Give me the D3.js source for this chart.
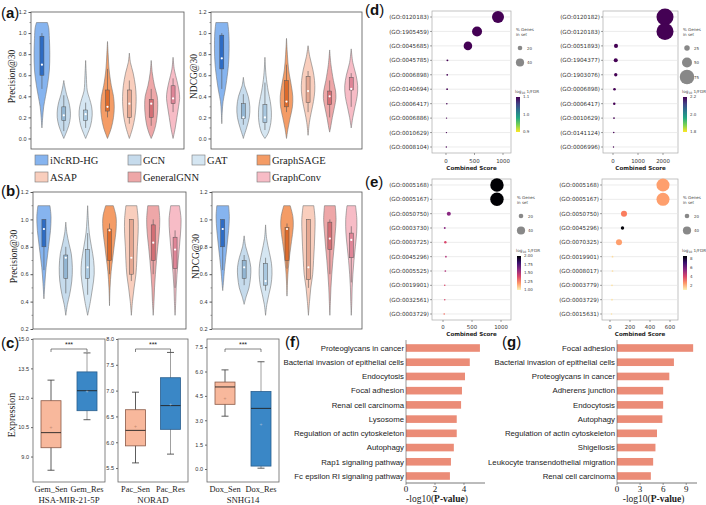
<!DOCTYPE html>
<html>
<head>
<meta charset="utf-8">
<script src="https://cdn.jsdelivr.net/npm/d3@7"></script>
<style>
  body { margin: 0; background: #fff; }
  svg { display: block; }
</style>
</head>
<body>
<div id="chart"></div>
<script>
// ---------- data ----------
var models = ["iNcRD-HG", "GCN", "GAT", "GraphSAGE", "ASAP", "GeneralGNN", "GraphConv"];
var violinFill = ["#86B4EF", "#C6DBEC", "#D5E6F2", "#F49C66", "#F9CEBD", "#EEA7A8", "#F7BCC6"];
var violinBox = ["#2E6CC4", "#93B6D3", "#A9C8E0", "#DD6B2C", "#E5A791", "#D36F75", "#DF8597"];

// violin outlines: [value, relative half width]
var precA = [
  [[1.1,0.5],[1.05,0.62],[0.95,0.68],[0.8,0.72],[0.65,0.68],[0.5,0.5],[0.4,0.33],[0.3,0.16],[0.2,0.07],[0.1,0]],
  [[0.55,0],[0.5,0.08],[0.42,0.25],[0.35,0.45],[0.28,0.58],[0.2,0.6],[0.12,0.45],[0.05,0.2],[0,0]],
  [[0.74,0],[0.6,0.06],[0.45,0.15],[0.38,0.35],[0.3,0.55],[0.22,0.6],[0.12,0.45],[0.05,0.2],[0,0]],
  [[0.92,0],[0.8,0.06],[0.65,0.15],[0.5,0.35],[0.4,0.55],[0.3,0.62],[0.2,0.55],[0.1,0.35],[0,0]],
  [[0.81,0],[0.72,0.1],[0.62,0.35],[0.5,0.55],[0.4,0.62],[0.3,0.6],[0.2,0.5],[0.1,0.3],[0,0]],
  [[0.74,0],[0.62,0.1],[0.5,0.3],[0.4,0.55],[0.32,0.6],[0.22,0.55],[0.12,0.4],[0.05,0.2],[0,0]],
  [[0.77,0],[0.65,0.12],[0.55,0.35],[0.45,0.55],[0.38,0.6],[0.3,0.5],[0.2,0.35],[0.1,0.2],[0,0]]
];
// box: [low whisker, q1, median, q3, high whisker]
var precABox = [[0.47,0.6,0.7,0.97,1.0],[0.07,0.17,0.22,0.3,0.41],[0.1,0.17,0.23,0.27,0.34],[0.2,0.26,0.3,0.46,0.66],
  [0.14,0.2,0.33,0.46,0.55],[0.12,0.2,0.33,0.37,0.47],[0.25,0.33,0.38,0.5,0.57]];

var ndcgA = [
  [[1.1,0.55],[1.0,0.65],[0.85,0.68],[0.7,0.62],[0.55,0.45],[0.45,0.3],[0.35,0.12],[0.25,0.04],[0.14,0]],
  [[0.58,0],[0.5,0.12],[0.4,0.45],[0.3,0.6],[0.2,0.55],[0.1,0.3],[0.02,0.05],[0,0]],
  [[0.77,0],[0.6,0.1],[0.45,0.3],[0.35,0.5],[0.25,0.6],[0.15,0.55],[0.05,0.3],[0,0]],
  [[0.95,0],[0.8,0.08],[0.65,0.2],[0.5,0.45],[0.4,0.58],[0.3,0.55],[0.2,0.35],[0.1,0.15],[0,0]],
  [[0.88,0],[0.78,0.15],[0.65,0.45],[0.55,0.6],[0.45,0.62],[0.35,0.5],[0.25,0.3],[0.15,0.12],[0.03,0]],
  [[0.84,0],[0.7,0.12],[0.55,0.35],[0.45,0.55],[0.38,0.58],[0.3,0.45],[0.2,0.25],[0.1,0.08],[0.06,0]],
  [[0.85,0],[0.72,0.15],[0.6,0.45],[0.5,0.6],[0.4,0.55],[0.3,0.35],[0.2,0.15],[0.1,0]]
];
var ndcgABox = [[0.47,0.66,0.76,0.98,1.0],[0.13,0.19,0.2,0.33,0.42],[0.08,0.15,0.2,0.32,0.53],[0.25,0.3,0.35,0.55,0.7],
  [0.25,0.34,0.45,0.59,0.64],[0.2,0.32,0.4,0.45,0.55],[0.3,0.46,0.47,0.58,0.62]];

var precB = [
  [[1.1,0.55],[1.02,0.65],[0.92,0.6],[0.85,0.5],[0.75,0.35],[0.65,0.2],[0.55,0.1],[0.42,0]],
  [[0.98,0],[0.9,0.1],[0.82,0.3],[0.75,0.5],[0.65,0.6],[0.55,0.55],[0.45,0.35],[0.38,0.15],[0.3,0]],
  [[1.1,0],[1.0,0.06],[0.9,0.15],[0.8,0.35],[0.7,0.55],[0.6,0.6],[0.5,0.45],[0.4,0.25],[0.3,0]],
  [[1.1,0.35],[1.02,0.6],[0.92,0.6],[0.82,0.45],[0.72,0.3],[0.62,0.15],[0.5,0.05],[0.37,0]],
  [[1.1,0.5],[1.0,0.62],[0.9,0.62],[0.8,0.55],[0.7,0.5],[0.6,0.42],[0.5,0.25],[0.4,0.1],[0.3,0]],
  [[1.1,0.5],[1.0,0.6],[0.9,0.55],[0.8,0.42],[0.7,0.3],[0.6,0.2],[0.5,0.12],[0.4,0.07],[0.3,0]],
  [[1.1,0.4],[1.0,0.55],[0.9,0.5],[0.8,0.4],[0.7,0.28],[0.6,0.18],[0.5,0.1],[0.4,0.06],[0.3,0]]
];
var precBBox = [[0.63,0.8,0.93,1.0,1.0],[0.46,0.57,0.72,0.74,0.8],[0.45,0.57,0.65,0.78,0.9],[0.6,0.7,0.92,0.93,0.97],
  [0.55,0.6,0.72,1.0,1.0],[0.6,0.7,0.83,0.96,1.0],[0.5,0.64,0.78,0.87,0.92]];

var ndcgB = [
  [[1.1,0.55],[1.02,0.62],[0.92,0.55],[0.82,0.42],[0.72,0.28],[0.62,0.15],[0.55,0.08],[0.48,0]],
  [[0.88,0],[0.8,0.15],[0.72,0.45],[0.65,0.62],[0.58,0.6],[0.5,0.45],[0.44,0.2],[0.38,0]],
  [[0.96,0],[0.86,0.1],[0.76,0.35],[0.68,0.55],[0.6,0.6],[0.52,0.5],[0.45,0.3],[0.38,0.12],[0.3,0]],
  [[1.1,0.3],[1.02,0.55],[0.94,0.58],[0.84,0.42],[0.74,0.25],[0.64,0.12],[0.55,0.05],[0.44,0]],
  [[1.1,0.5],[1.0,0.62],[0.9,0.6],[0.8,0.55],[0.7,0.48],[0.6,0.4],[0.5,0.22],[0.4,0.1],[0.3,0]],
  [[1.1,0.5],[1.0,0.58],[0.9,0.5],[0.8,0.4],[0.7,0.28],[0.6,0.18],[0.5,0.1],[0.4,0.05],[0.3,0]],
  [[1.1,0.4],[1.0,0.52],[0.9,0.5],[0.8,0.38],[0.7,0.25],[0.6,0.15],[0.5,0.08],[0.4,0.05],[0.3,0]]
];
var ndcgBBox = [[0.63,0.8,0.93,1.0,1.0],[0.52,0.57,0.65,0.7,0.74],[0.48,0.52,0.55,0.68,0.72],[0.64,0.7,0.93,0.94,0.97],
  [0.5,0.56,0.65,1.0,1.0],[0.6,0.78,0.86,0.98,1.0],[0.54,0.72,0.85,0.9,0.95]];

// panel (c) box plots
var genes = ["HSA-MIR-21-5P", "NORAD", "SNHG14"];
var groups = [["Gem_Sen", "Gem_Res"], ["Pac_Sen", "Pac_Res"], ["Dox_Sen", "Dox_Res"]];
var groupStats = [
  [[8.3, 9.45, 10.22, 11.85, 12.9], [10.88, 11.34, 12.36, 13.32, 14.29]],
  [[5.6, 5.93, 6.23, 6.63, 6.97], [5.77, 6.25, 6.71, 7.25, 7.74]],
  [[3.25, 3.98, 5.05, 5.35, 6.1], [0.05, 0.18, 3.73, 4.77, 6.6]]
];
var groupMeans = [[10.5, 12.3], [6.3, 6.73], [4.35, 2.75]];
var expTicks = [[9, 10.5, 12, 13.5, 15], [5.5, 6.0, 6.5, 7.0, 7.5, 8.0], [0, 1.5, 3, 4.5, 6, 7.5]];

// panel (d)/(e) enrichment dots
var goD1 = ["(GO:0120183)","(GO:1905459)","(GO:0045685)","(GO:0045785)","(GO:0006898)","(GO:0140694)","(GO:0006417)","(GO:0006886)","(GO:0010629)","(GO:0008104)"];
var goD1Score = [912, 545, 385, 25, 22, 20, 15, 10, 8, 6];
var goD1Pct = [61, 50, 42, 5, 4, 4, 3, 2, 2, 2];
var goD1Fdr = [1.1, 1.1, 1.1, 1.1, 1.1, 1.1, 1.1, 1.1, 1.1, 1.1];

var goD2 = ["(GO:0120182)","(GO:0120183)","(GO:0051893)","(GO:1904377)","(GO:1903076)","(GO:0006898)","(GO:0006417)","(GO:0010629)","(GO:0141124)","(GO:0006996)"];
var goD2Score = [2080, 2080, 120, 110, 110, 60, 50, 40, 30, 20];
var goD2Pct = [89, 89, 17, 17, 13, 9, 8, 4, 3, 2];
var goD2Fdr = [2.2, 2.2, 2.2, 2.2, 2.2, 2.2, 2.2, 2.2, 2.2, 2.2];

var goE1 = ["(GO:0005168)","(GO:0005167)","(GO:0050750)","(GO:0003730)","(GO:0003725)","(GO:0045296)","(GO:0005525)","(GO:0019901)","(GO:0032561)","(GO:0003729)"];
var goE1Score = [930, 930, 100, 30, 40, 50, 40, 30, 30, 20];
var goE1Pct = [69, 69, 17, 5, 8, 4, 4, 3, 3, 3];
var goE1Fdr = [2.0, 2.0, 1.6, 1.6, 1.4, 1.5, 1.5, 1.4, 1.4, 1.3];

var goE2 = ["(GO:0005168)","(GO:0005167)","(GO:0050750)","(GO:0045296)","(GO:0070325)","(GO:0019901)","(GO:0008017)","(GO:0003779)","(GO:0003729)","(GO:0015631)"];
var goE2Score = [530, 530, 140, 125, 90, 25, 25, 20, 20, 15];
var goE2Pct = [67, 67, 28, 13, 28, 4, 4, 4, 4, 3];
var goE2Fdr = [2.4, 2.4, 2.95, 8.5, 2.4, 1.4, 1.4, 1.3, 1.3, 1.3];

// panel (f)/(g) KEGG bars
var keggF = ["Proteoglycans in cancer","Bacterial invasion of epithelial cells","Endocytosis","Focal adhesion","Renal cell carcinoma",
  "Lysosome","Regulation of actin cytoskeleton","Autophagy","Rap1 signaling pathway","Fc epsilon RI signaling pathway"];
var keggFVal = [5.1, 4.4, 4.07, 3.86, 3.8, 3.5, 3.5, 3.3, 3.1, 3.03];
var keggG = ["Focal adhesion","Bacterial invasion of epithelial cells","Proteoglycans in cancer","Adherens junction","Endocytosis",
  "Autophagy","Regulation of actin cytoskeleton","Shigellosis","Leukocyte transendothelial migration","Renal cell carcinoma"];
var keggGVal = [9.9, 7.4, 6.8, 6.0, 6.0, 5.9, 5.2, 5.0, 4.7, 4.4];

// ---------- drawing ----------
var SERIF = '"Liberation Serif","Times New Roman",serif';
var SANS = '"Liberation Sans",Arial,sans-serif';
var DJ = '"DejaVu Sans",sans-serif';

var svg = d3.select("#chart").append("svg").attr("width", 706).attr("height", 505);
svg.append("rect").attr("width", 706).attr("height", 505).attr("fill", "#fff");
var defs = svg.append("defs");

function panelLabel(x, y, letter) {
  var t = svg.append("text").attr("x", x).attr("y", y).attr("font-family", SANS).attr("font-size", 15).attr("fill", "#111");
  t.append("tspan").text("(");
  t.append("tspan").attr("font-weight", "bold").text(letter);
  t.append("tspan").text(")");
}

function violins(x0, x1, yTop, yBot, dom, ticks, profiles, boxes, title, titleX) {
  var g = svg.append("g");
  var x = d3.scaleBand().domain(models).range([x0, x1]);
  var y = d3.scaleLinear().domain(dom).range([yBot, yTop]);
  var w = d3.scaleLinear().domain([0, 1]).range([0, x.bandwidth() / 2]);

  models.forEach(function (m, i) {
    var cx = x(m) + x.bandwidth() / 2;
    var area = d3.area().curve(d3.curveCatmullRom)
      .y(function (d) { return y(d[0]); })
      .x0(function (d) { return cx - w(d[1]); })
      .x1(function (d) { return cx + w(d[1]); });
    g.append("path").attr("d", area(profiles[i])).attr("fill", violinFill[i])
      .attr("stroke", "#777").attr("stroke-width", 0.6);
    var b = boxes[i];
    g.append("line").attr("x1", cx).attr("x2", cx).attr("y1", y(b[0])).attr("y2", y(b[4]))
      .attr("stroke", "#555").attr("stroke-width", 0.6);
    g.append("rect").attr("x", cx - 2).attr("width", 4).attr("y", y(b[3])).attr("height", y(b[1]) - y(b[3]))
      .attr("fill", violinBox[i]).attr("stroke", "#555").attr("stroke-width", 0.5);
    g.append("circle").attr("cx", cx).attr("cy", y(b[2])).attr("r", 1.1).attr("fill", "#fff");
  });

  g.append("rect").attr("x", x0).attr("y", yTop).attr("width", x1 - x0).attr("height", yBot - yTop)
    .attr("fill", "none").attr("stroke", "#555").attr("stroke-width", 0.8);

  var ax = g.append("g").attr("transform", "translate(" + x0 + ",0)")
    .call(d3.axisLeft(y).tickValues(ticks).tickSize(2.5).tickPadding(2).tickFormat(d3.format(".1f")));
  ax.select(".domain").remove();
  ax.selectAll("line").attr("stroke", "#555");
  ax.selectAll("text").attr("font-size", 5.5).attr("font-family", SANS).attr("fill", "#333");
  var minor = ticks.slice(1).map(function (t, i) { return (t + ticks[i]) / 2; });
  g.selectAll(null).data(minor).enter().append("line")
    .attr("x1", x0 - 1.5).attr("x2", x0).attr("y1", function (d) { return y(d); }).attr("y2", function (d) { return y(d); })
    .attr("stroke", "#555").attr("stroke-width", 0.6);

  g.append("text").attr("transform", "translate(" + titleX + "," + ((yTop + yBot) / 2 - 4) + ") rotate(-90)")
    .attr("text-anchor", "middle").attr("font-family", SERIF).attr("font-size", 9.5).attr("fill", "#222").text(title);
}

panelLabel(1, 18, "a");
violins(31, 184, 12, 149, [-0.1, 1.2], [0, 0.2, 0.4, 0.6, 0.8, 1.0, 1.2], precA, precABox, "Precision@30", 15);
violins(211, 362, 12, 149, [-0.1, 1.2], [0, 0.2, 0.4, 0.6, 0.8, 1.0, 1.2], ndcgA, ndcgABox, "NDCG@30", 197);
panelLabel(1, 196, "b");
violins(33, 186, 192, 329, [0.2, 1.2], [0.2, 0.4, 0.6, 0.8, 1.0, 1.2], precB, precBBox, "Precision@30", 17);
violins(212, 362, 192, 329, [0.2, 1.2], [0.2, 0.4, 0.6, 0.8, 1.0, 1.2], ndcgB, ndcgBBox, "NDCG@30", 199);

// legend between (a) and (b)
var legX = [35, 128, 192, 257, 35, 128, 257];
var legY = [160, 160, 160, 160, 177, 177, 177];
var leg = svg.append("g");
models.forEach(function (m, i) {
  leg.append("rect").attr("x", legX[i]).attr("y", legY[i] - 5).attr("width", 13).attr("height", 10)
    .attr("fill", violinFill[i]).attr("stroke", "#777").attr("stroke-width", 0.6);
  leg.append("text").attr("x", legX[i] + 15).attr("y", legY[i] + 4).attr("font-family", SERIF)
    .attr("font-size", 10.5).attr("fill", "#222").text(m);
});

// ---------- panel (c) ----------
panelLabel(1, 348, "c");
var boxFill = ["#F8B89C", "#3A87C6"];
var boxFrames = [[33, 105, [7.7, 15]], [118, 188, [5.23, 8.0]], [207, 279, [-0.8, 8.0]]];
var cTop = 339, cBot = 482;
genes.forEach(function (gene, k) {
  var g = svg.append("g");
  var x0 = boxFrames[k][0], x1 = boxFrames[k][1];
  var y = d3.scaleLinear().domain(boxFrames[k][2]).range([cBot, cTop]);
  var x = d3.scalePoint().domain(groups[k]).range([x0, x1]).padding(0.5);
  groups[k].forEach(function (grp, j) {
    var s = groupStats[k][j], cx = x(grp);
    g.append("line").attr("x1", cx).attr("x2", cx).attr("y1", y(s[0])).attr("y2", y(s[4]))
      .attr("stroke", j ? "#888" : "#333").attr("stroke-width", 0.8);
    [s[0], s[4]].forEach(function (v) {
      g.append("line").attr("x1", cx - 3.5).attr("x2", cx + 3.5).attr("y1", y(v)).attr("y2", y(v))
        .attr("stroke", "#333").attr("stroke-width", 0.8);
    });
    g.append("rect").attr("x", cx - 10).attr("width", 20).attr("y", y(s[3])).attr("height", y(s[1]) - y(s[3]))
      .attr("fill", boxFill[j]).attr("stroke", j ? "#2a5f8e" : "#8a5a48").attr("stroke-width", 0.8);
    g.append("line").attr("x1", cx - 10).attr("x2", cx + 10).attr("y1", y(s[2])).attr("y2", y(s[2]))
      .attr("stroke", "#222").attr("stroke-width", 0.9);
    g.append("text").attr("x", cx).attr("y", y(groupMeans[k][j]) + 1.5).attr("text-anchor", "middle")
      .attr("font-size", 5).attr("fill", j ? "#9bbbd8" : "#c58a70").attr("font-family", SANS).text("+");
    g.append("text").attr("x", cx).attr("y", 492).attr("text-anchor", "middle").attr("font-family", SERIF)
      .attr("font-size", 8.4).attr("fill", "#222").text(grp);
  });
  // significance bracket
  var a = x(groups[k][0]), b = x(groups[k][1]);
  g.append("path").attr("d", "M" + a + ",352V349H" + b + "V352").attr("fill", "none").attr("stroke", "#333").attr("stroke-width", 0.6);
  g.append("text").attr("x", (a + b) / 2).attr("y", 347).attr("text-anchor", "middle").attr("font-family", SANS)
    .attr("font-size", 7).attr("fill", "#222").text("***");
  g.append("rect").attr("x", x0).attr("y", cTop).attr("width", x1 - x0).attr("height", cBot - cTop)
    .attr("fill", "none").attr("stroke", "#666").attr("stroke-width", 0.8);
  var ax = g.append("g").attr("transform", "translate(" + x0 + ",0)")
    .call(d3.axisLeft(y).tickValues(expTicks[k]).tickSize(2).tickPadding(2).tickFormat(d3.format(".1f")));
  ax.select(".domain").remove();
  ax.selectAll("line").attr("stroke", "#666");
  ax.selectAll("text").attr("font-size", 5.5).attr("font-family", SANS).attr("fill", "#333");
  g.append("text").attr("x", (x0 + x1) / 2).attr("y", 503).attr("text-anchor", "middle").attr("font-family", SERIF)
    .attr("font-size", 8.8).attr("fill", "#222").text(gene);
});
svg.append("text").attr("transform", "translate(15,415) rotate(-90)").attr("text-anchor", "middle")
  .attr("font-family", SERIF).attr("font-size", 10).attr("fill", "#222").text("Expression");

// ---------- panels (d)/(e) ----------
var rScale = d3.scaleLinear().domain([0, 100]).range([0.5, 9.5]);

function dotPanel(x0, x1, yTop, yBot, terms, score, pct, fdr, xDom, xTicks, color, tickY) {
  var g = svg.append("g");
  var x = d3.scaleLinear().domain(xDom).range([x0, x1]);
  var y = d3.scalePoint().domain(terms).range([yTop + 6, yBot - 6]);
  g.append("rect").attr("x", x0).attr("y", yTop).attr("width", x1 - x0).attr("height", yBot - yTop)
    .attr("fill", "#fff").attr("stroke", "#aaa").attr("stroke-width", 0.7);
  terms.forEach(function (t) {
    g.append("line").attr("x1", x0).attr("x2", x1).attr("y1", y(t)).attr("y2", y(t)).attr("stroke", "#e4e4e4").attr("stroke-width", 0.7);
    g.append("line").attr("x1", x0 - 2).attr("x2", x0).attr("y1", y(t)).attr("y2", y(t)).attr("stroke", "#444").attr("stroke-width", 0.5);
    g.append("text").attr("x", x0 - 3).attr("y", y(t) + 2.1).attr("text-anchor", "end").attr("font-family", DJ)
      .attr("font-size", 5.6).attr("fill", "#333").text(t);
  });
  terms.forEach(function (t, i) {
    g.append("circle").attr("cx", x(score[i])).attr("cy", y(t)).attr("r", rScale(pct[i])).attr("fill", color(fdr[i]));
  });
  xTicks.forEach(function (v) {
    g.append("line").attr("x1", x(v)).attr("x2", x(v)).attr("y1", yBot).attr("y2", yBot + 2).attr("stroke", "#444").attr("stroke-width", 0.5);
    g.append("text").attr("x", x(v)).attr("y", tickY).attr("text-anchor", "middle").attr("font-family", DJ)
      .attr("font-size", 5.4).attr("fill", "#333").text(v);
  });
  g.append("text").attr("x", (x0 + x1) / 2).attr("y", tickY + 7).attr("text-anchor", "middle").attr("font-family", DJ)
    .attr("font-weight", "bold").attr("font-size", 5.5).attr("fill", "#222").text("Combined Score");
}

function sizeLegend(x, y, values) {
  var g = svg.append("g").attr("font-family", DJ).attr("fill", "#444");
  g.append("text").attr("x", x).attr("y", y).attr("font-size", 4).text("% Genes");
  g.append("text").attr("x", x).attr("y", y + 4.5).attr("font-size", 4).text("in set");
  values.forEach(function (v, i) {
    var cy = y + 17 + i * 14.5;
    g.append("circle").attr("cx", x + 4).attr("cy", cy).attr("r", rScale(v)).attr("fill", "#888");
    g.append("text").attr("x", x + 11).attr("y", cy + 1.5).attr("font-size", 4).text(v);
  });
}

function colorbar(x, yTop, yBot, dom, ticks, fmt, color, id) {
  var g = svg.append("g").attr("font-family", DJ).attr("fill", "#444");
  var t = g.append("text").attr("x", x - 1).attr("y", yTop - 4).attr("font-size", 4.2);
  t.append("tspan").text("log");
  t.append("tspan").attr("font-size", 3).attr("dy", 1).text("10");
  t.append("tspan").attr("dy", -1).text(" 1/FDR");
  var grad = defs.append("linearGradient").attr("id", id).attr("x1", 0).attr("y1", 1).attr("x2", 0).attr("y2", 0);
  [0, 0.2, 0.4, 0.6, 0.8, 1].forEach(function (o) {
    grad.append("stop").attr("offset", o).attr("stop-color", color(dom[0] + o * (dom[1] - dom[0])));
  });
  g.append("rect").attr("x", x).attr("y", yTop).attr("width", 4).attr("height", yBot - yTop).attr("fill", "url(#" + id + ")");
  var s = d3.scaleLinear().domain(dom).range([yBot, yTop]);
  ticks.forEach(function (v) {
    g.append("text").attr("x", x + 7).attr("y", s(v) + 1.4).attr("font-size", 4).text(fmt(v));
  });
}

function viridisOf(dom) {
  var n = d3.scaleLinear().domain(dom).range([1, 0]).clamp(true);
  return function (v) { return d3.interpolateViridis(n(v)); };
}
function magmaOf(dom) {
  var n = d3.scaleLinear().domain(dom).range([0.98, 0]).clamp(true);
  return function (v) { return d3.interpolateMagma(n(v)); };
}

panelLabel(365, 15, "d");
var cD1 = viridisOf([0.9, 1.1]);
dotPanel(432, 511, 11, 153, goD1, goD1Score, goD1Pct, goD1Fdr, [-245, 1140], [0, 500, 1000], cD1, 163);
sizeLegend(516, 31, [20, 40]);
colorbar(516, 97, 132, [0.9, 1.1], [1.1, 1.0, 0.9], d3.format(".1f"), cD1, "gD1");

var cD2 = viridisOf([1.8, 2.2]);
dotPanel(603, 678, 11, 153, goD2, goD2Score, goD2Pct, goD2Fdr, [-400, 2600], [0, 1000, 2000], cD2, 163);
sizeLegend(683, 31, [25, 50, 75]);
colorbar(683, 97, 132, [1.8, 2.2], [2.2, 2.0, 1.8], d3.format(".1f"), cD2, "gD2");

panelLabel(365, 187, "e");
var cE1 = magmaOf([1.0, 2.0]);
dotPanel(432, 511, 179, 320, goE1, goE1Score, goE1Pct, goE1Fdr, [-190, 1172], [0, 500, 1000], cE1, 329);
sizeLegend(517, 199, [20, 40]);
colorbar(517, 256, 290, [1.0, 2.0], [2.0, 1.75, 1.5, 1.25, 1.0], d3.format(".2f"), cE1, "gE1");

var cE2 = magmaOf([1.0, 8.6]);
dotPanel(602, 678, 179, 320, goE2, goE2Score, goE2Pct, goE2Fdr, [-80, 680], [0, 200, 400, 600], cE2, 329);
sizeLegend(683, 199, [20, 40]);
colorbar(683, 256, 290, [1.0, 8.6], [8, 6, 4, 2], d3.format("d"), cE2, "gE2");

// ---------- panels (f)/(g) ----------
function barPanel(terms, vals, x0, x1, dom, ticks) {
  var g = svg.append("g");
  var x = d3.scaleLinear().domain(dom).range([x0, x1]);
  var y = d3.scalePoint().domain(terms).range([348, 476]);
  terms.forEach(function (t, i) {
    g.append("rect").attr("x", x(0)).attr("y", y(t) - 3.8).attr("width", x(vals[i]) - x(0)).attr("height", 7.6).attr("fill", "#EB8C77");
    g.append("text").attr("x", x0 - 2).attr("y", y(t) + 2.8).attr("text-anchor", "end").attr("font-family", SANS)
      .attr("font-size", 7.8).attr("fill", "#222").text(t);
  });
  g.append("line").attr("x1", x0).attr("x2", x0).attr("y1", 340).attr("y2", 483).attr("stroke", "#555").attr("stroke-width", 0.6);
  g.append("line").attr("x1", x0).attr("x2", x1).attr("y1", 483).attr("y2", 483).attr("stroke", "#555").attr("stroke-width", 0.8);
  ticks.forEach(function (v) {
    g.append("line").attr("x1", x(v)).attr("x2", x(v)).attr("y1", 483).attr("y2", 485).attr("stroke", "#555").attr("stroke-width", 0.6);
    g.append("text").attr("x", x(v)).attr("y", 492).attr("text-anchor", "middle").attr("font-family", SERIF)
      .attr("font-size", 9).attr("fill", "#222").text(v);
  });
  var t = g.append("text").attr("x", x(0) + (x(ticks[ticks.length - 1]) - x(0)) / 2 + 2).attr("y", 502).attr("text-anchor", "middle")
    .attr("font-family", SERIF).attr("font-size", 9.5).attr("fill", "#222");
  t.append("tspan").text("-log10(");
  t.append("tspan").attr("font-weight", "bold").text("P-value");
  t.append("tspan").text(")");
}

panelLabel(285, 347, "f");
barPanel(keggF, keggFVal, 406, 485, [0, 5.45], [0, 2, 4]);
panelLabel(502, 347, "g");
barPanel(keggG, keggGVal, 617, 697, [0, 10.4], [0, 3, 6, 9]);
</script>
</body>
</html>
